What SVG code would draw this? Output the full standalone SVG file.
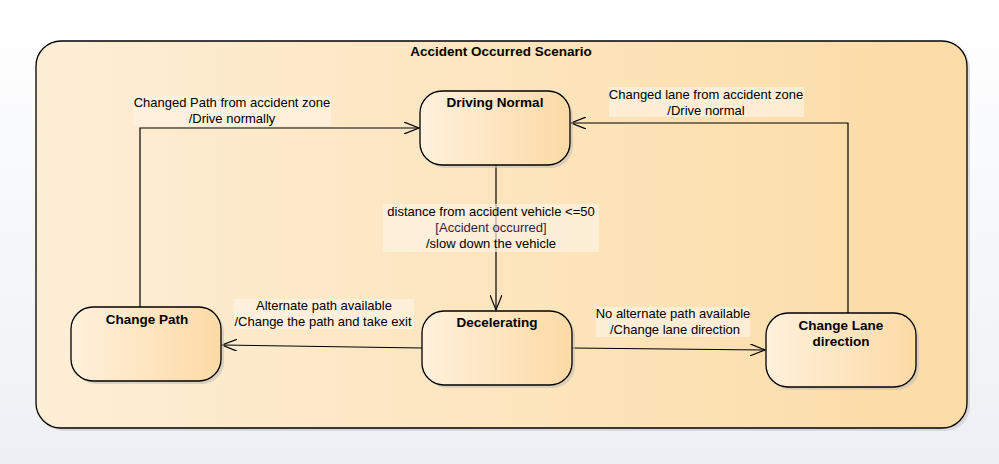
<svg xmlns="http://www.w3.org/2000/svg" width="999" height="464" viewBox="0 0 999 464">
<defs>
<linearGradient id="bg" x1="0" y1="0" x2="0" y2="1"><stop offset="0" stop-color="#ffffff"/><stop offset="1" stop-color="#eef0f5"/></linearGradient>
<linearGradient id="cont" x1="0" y1="0" x2="1" y2="0"><stop offset="0" stop-color="#fdeed6"/><stop offset="1" stop-color="#fcdca6"/></linearGradient>
<linearGradient id="node" x1="0" y1="0" x2="1" y2="0"><stop offset="0" stop-color="#fff1dc"/><stop offset="1" stop-color="#fcdaa5"/></linearGradient>
<marker id="arr" markerWidth="16" markerHeight="12" refX="15" refY="6" orient="auto" markerUnits="userSpaceOnUse"><path d="M0,0 L15,6 L0,12" fill="none" stroke="#000" stroke-width="1.2"/></marker>
</defs>
<style>
text{font-family:"Liberation Sans",Arial,sans-serif;fill:#000}
.lbl{font-size:13px;text-anchor:middle}
.ttl{font-size:13.5px;font-weight:bold;text-anchor:middle}
.lb{fill:#fef2e2;opacity:0.7}
.st{fill:url(#node);stroke:#000;stroke-width:1.3}
.sh{fill:#c8c0b4;opacity:0.6}
.c{fill:none;stroke:#000;stroke-width:1.2;marker-end:url(#arr)}
</style>
<rect width="999" height="464" fill="url(#bg)"/>
<g id="container">
<rect x="39" y="44" width="931" height="387" rx="25" fill="#c9c9c9" opacity="0.6"/>
<rect x="36" y="41" width="931" height="387" rx="25" fill="url(#cont)" stroke="#000" stroke-width="1.3"/>
<text x="501" y="56" style="font-size:13.5px;font-weight:bold;text-anchor:middle">Accident Occurred Scenario</text>
</g>
<g id="connectors">
<polyline class="c" points="140,307 140,128 419,128"/>
<polyline class="c" points="496,165 496,310"/>
<polyline class="c" points="422,348 222,345"/>
<polyline class="c" points="572,348 765,350"/>
<polyline class="c" points="848,313 848,123 571,123"/>
</g>
<g id="labels">
<rect class="lb" x="133" y="96" width="198" height="30"/>
<text class="lbl" x="232" y="107">Changed Path from accident zone</text>
<text class="lbl" x="232" y="123">/Drive normally</text>
<rect class="lb" x="609" y="87" width="195" height="30"/>
<text class="lbl" x="706" y="99">Changed lane from accident zone</text>
<text class="lbl" x="706" y="115">/Drive normal</text>
<rect class="lb" x="383" y="204" width="216" height="48"/>
<text class="lbl" x="491" y="216">distance from accident vehicle &lt;=50</text>
<text class="lbl" x="491" y="232" style="fill:#3a1c48">[Accident occurred]</text>
<text class="lbl" x="491" y="248">/slow down the vehicle</text>
<rect class="lb" x="234" y="299" width="180" height="30"/>
<text class="lbl" x="324" y="310">Alternate path available</text>
<text class="lbl" x="323" y="326">/Change the path and take exit</text>
<rect class="lb" x="596" y="307" width="154" height="30"/>
<text class="lbl" x="673" y="318">No alternate path available</text>
<text class="lbl" x="675" y="334">/Change lane direction</text>
</g>
<g id="driving-normal">
<rect class="sh" x="423" y="94" width="150" height="74" rx="22"/>
<rect class="st" x="420" y="91" width="150" height="74" rx="22"/>
<text class="ttl" x="495" y="107">Driving Normal</text>
</g>
<g id="change-path">
<rect class="sh" x="74" y="310" width="150" height="74" rx="22"/>
<rect class="st" x="71" y="307" width="150" height="74" rx="22"/>
<text class="ttl" x="147" y="324">Change Path</text>
</g>
<g id="decelerating">
<rect class="sh" x="425" y="314" width="150" height="74" rx="22"/>
<rect class="st" x="422" y="311" width="150" height="74" rx="22"/>
<text class="ttl" x="497" y="327">Decelerating</text>
</g>
<g id="change-lane">
<rect class="sh" x="769" y="316" width="150" height="74" rx="22"/>
<rect class="st" x="766" y="313" width="150" height="74" rx="22"/>
<text class="ttl" x="841" y="330">Change Lane</text>
<text class="ttl" x="841" y="346">direction</text>
</g>
</svg>
